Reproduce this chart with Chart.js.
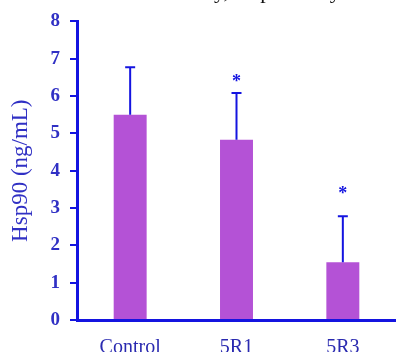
<!DOCTYPE html>
<html>
<head>
<meta charset="utf-8">
<script src="https://cdn.jsdelivr.net/npm/chart.js"></script>
<style>
  body { margin: 0; background: #fff; }
  #wrap { position: relative; width: 396px; height: 352px; overflow: hidden; }
  #cut { position: absolute; left: 214px; top: -20px; font: 22px/22px "Liberation Serif", serif; color: #111; white-space: nowrap; }
</style>
</head>
<body>
<div id="wrap">
  <div id="cut">y, respectively</div>
  <canvas id="chart" width="396" height="352"></canvas>
</div>
<script>
const categories = ['Control', '5R1', '5R3'];
const hsp90 = [5.5, 4.83, 1.55];
const sd = [1.27, 1.25, 1.23];
const starAt = [null, 6.45, 3.45];
const yTicks = [0, 1, 2, 3, 4, 5, 6, 7, 8];

const blue = '#1414e0';
const textBlue = '#3030c4';

const errorBars = {
  id: 'errorBars',
  afterDatasetsDraw(chart) {
    const ctx = chart.ctx;
    const y = chart.scales.y;
    const meta = chart.getDatasetMeta(0);
    ctx.save();
    ctx.strokeStyle = blue;
    ctx.lineWidth = 2;
    meta.data.forEach((bar, i) => {
      const top = y.getPixelForValue(hsp90[i] + sd[i]);
      ctx.beginPath();
      ctx.moveTo(bar.x, bar.y);
      ctx.lineTo(bar.x, top);
      ctx.moveTo(bar.x - 5, top);
      ctx.lineTo(bar.x + 5, top);
      ctx.stroke();
      if (starAt[i] != null) {
        ctx.fillStyle = blue;
        ctx.font = 'bold 18px "Liberation Serif", serif';
        ctx.textAlign = 'center';
        ctx.textBaseline = 'middle';
        ctx.fillText('*', bar.x, y.getPixelForValue(starAt[i]) + 3);
      }
    });
    ctx.restore();
  }
};

new Chart(document.getElementById('chart'), {
  type: 'bar',
  data: {
    labels: categories,
    datasets: [{
      data: hsp90,
      backgroundColor: '#b452d6',
      barPercentage: 0.31,
      categoryPercentage: 1
    }]
  },
  options: {
    responsive: false,
    animation: false,
    layout: { padding: { top: 21, right: 0, left: 0, bottom: 0 } },
    plugins: { legend: { display: false }, tooltip: { enabled: false } },
    scales: {
      x: {
        grid: { display: false },
        border: { color: blue, width: 3 },
        ticks: {
          color: '#2a2ab0',
          font: { family: '"Liberation Serif", serif', size: 20 },
          padding: 8
        },
        afterFit(s) { s.height = 32; }
      },
      y: {
        min: 0,
        max: 8,
        afterBuildTicks(s) { s.ticks = yTicks.map(v => ({ value: v })); },
        grid: { drawOnChartArea: false, color: blue, lineWidth: 2, tickLength: 7 },
        border: { color: blue, width: 3 },
        ticks: {
          color: textBlue,
          font: { family: '"Liberation Serif", serif', size: 19, weight: 'bold' },
          padding: 10
        },
        title: {
          display: true,
          text: 'Hsp90 (ng/mL)',
          color: textBlue,
          font: { family: '"Liberation Serif", serif', size: 23 },
          padding: { top: 7, bottom: 0 }
        },
        afterFit(s) { s.width = 77; }
      }
    }
  },
  plugins: [errorBars]
});
</script>
</body>
</html>
